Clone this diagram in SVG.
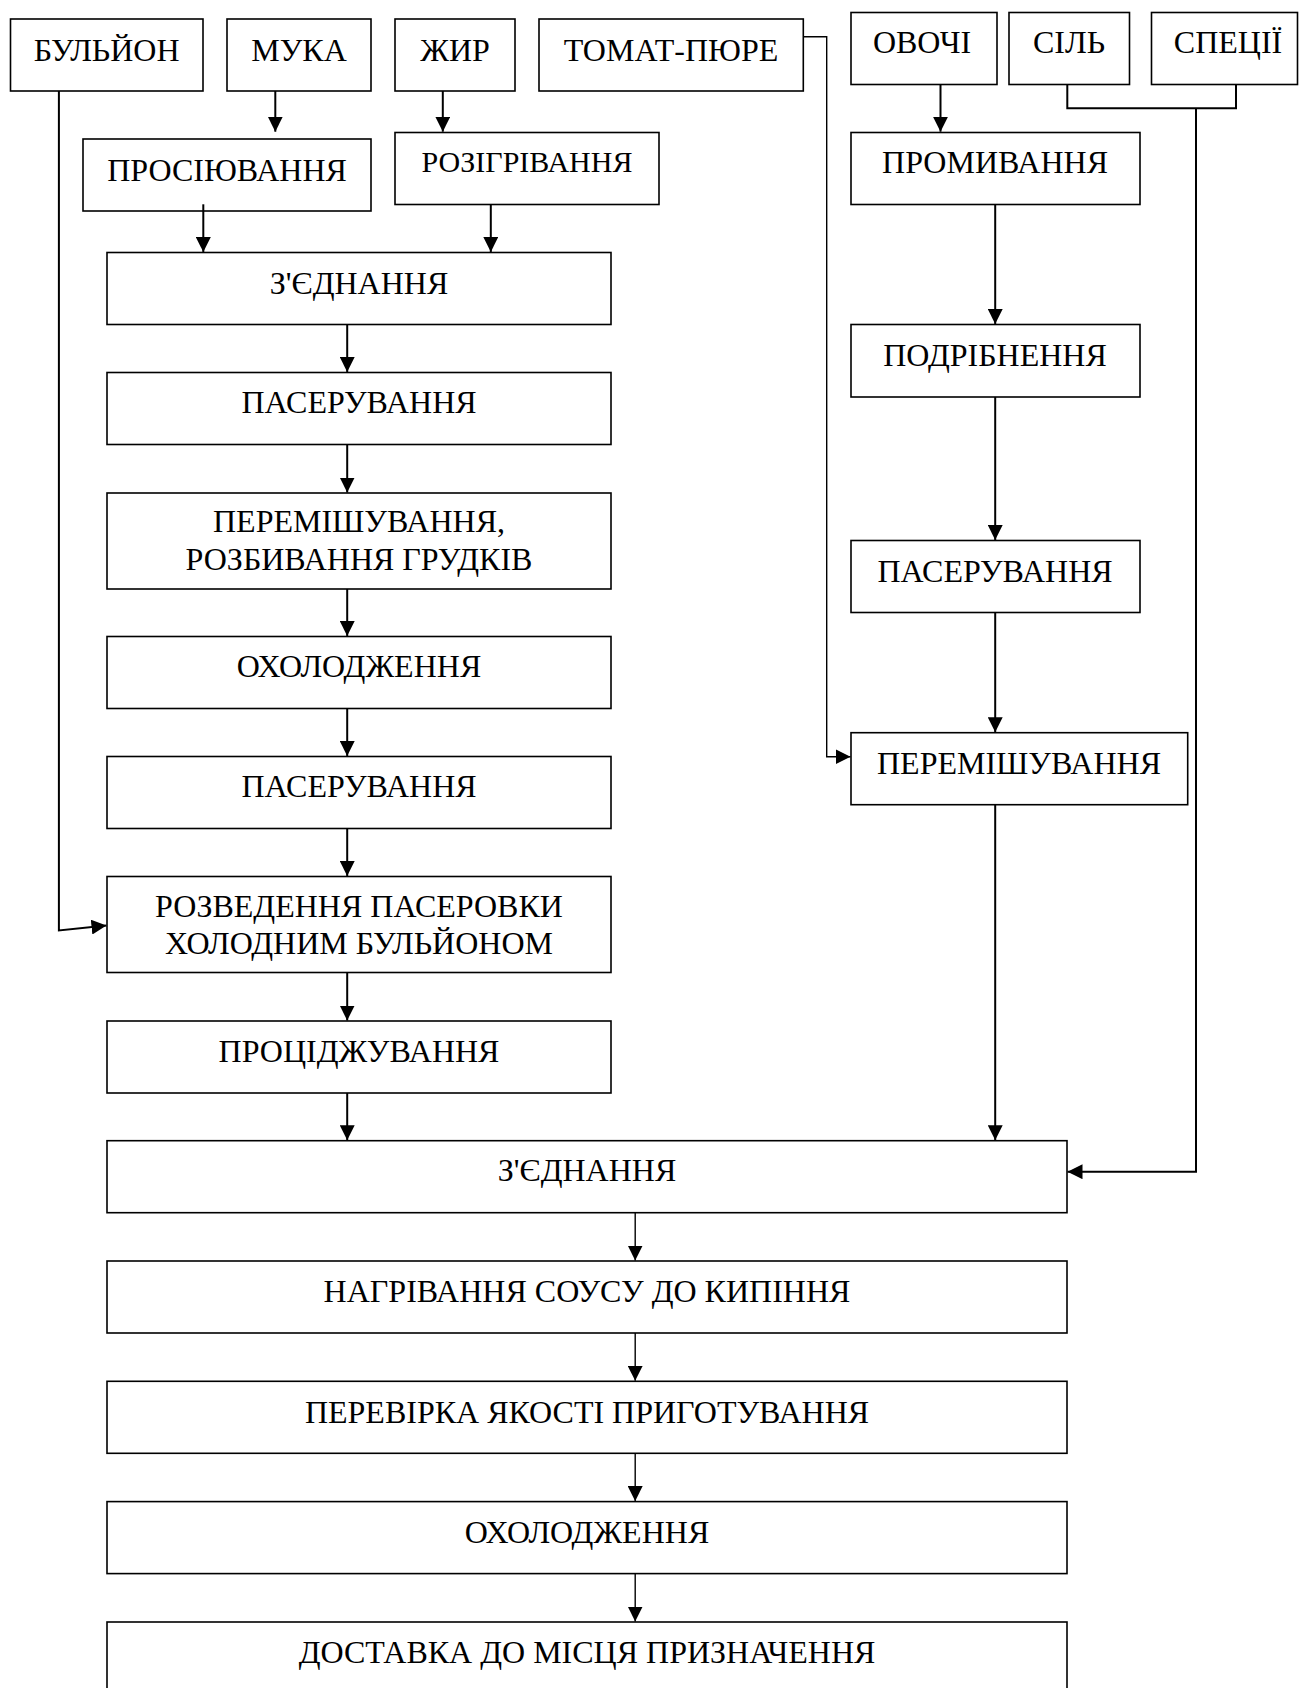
<svg xmlns="http://www.w3.org/2000/svg" width="1299" height="1688" viewBox="0 0 1299 1688">
<style>
rect.b{fill:#fff;stroke:#000;stroke-width:1.6}
text{font-family:"Liberation Serif","Times New Roman",serif;font-size:32px;fill:#000;text-anchor:middle}
text.s{font-size:30px}
.c{fill:none;stroke:#000;stroke-width:2}
.t{fill:none;stroke:#000;stroke-width:1.4}
</style>
<defs>
<marker id="ah" markerUnits="userSpaceOnUse" markerWidth="15" markerHeight="15" refX="15" refY="7.5" orient="auto">
<path d="M0,0 L15,7.5 L0,15 z" fill="#000"/>
</marker>
</defs>
<rect width="1299" height="1688" fill="#fff"/>
<g id="n-bulyon"><rect class="b" x="10.5" y="19" width="192.5" height="72"/><text x="106.7" y="61">БУЛЬЙОН</text></g>
<g id="n-muka"><rect class="b" x="227" y="19" width="144" height="72"/><text x="299" y="61">МУКА</text></g>
<g id="n-zhyr"><rect class="b" x="395" y="19" width="120" height="72"/><text x="455" y="61">ЖИР</text></g>
<g id="n-tomat"><rect class="b" x="539" y="19" width="264.3" height="72"/><text x="671" y="61">ТОМАТ-ПЮРЕ</text></g>
<g id="n-ovochi"><rect class="b" x="851" y="12.5" width="146" height="72"/><text x="922" y="53.3">ОВОЧІ</text></g>
<g id="n-sil"><rect class="b" x="1009" y="12.5" width="120.5" height="72"/><text x="1069" y="53.3">СІЛЬ</text></g>
<g id="n-spetsii"><rect class="b" x="1151.5" y="12.5" width="146" height="72"/><text x="1228" y="52.5">СПЕЦІЇ</text></g>
<g id="n-prosiyuvannya"><rect class="b" x="83" y="139" width="288" height="72"/><text x="227" y="181">ПРОСІЮВАННЯ</text></g>
<g id="n-rozihrivannya"><rect class="b" x="395" y="132.5" width="264" height="72"/><text class="s" x="527" y="171.7">РОЗІГРІВАННЯ</text></g>
<g id="n-zyednannya1"><rect class="b" x="107" y="252.5" width="504" height="72"/><text x="359" y="294.3">З'ЄДНАННЯ</text></g>
<g id="n-paseruvannya1"><rect class="b" x="107" y="372.5" width="504" height="72"/><text x="359" y="413.3">ПАСЕРУВАННЯ</text></g>
<g id="n-peremishuvannya1"><rect class="b" x="107" y="493" width="504" height="96"/><text x="359" y="531.7">ПЕРЕМІШУВАННЯ,</text><text x="359" y="570">РОЗБИВАННЯ ГРУДКІВ</text></g>
<g id="n-okholodzhennya1"><rect class="b" x="107" y="636.5" width="504" height="72"/><text x="359" y="677.3">ОХОЛОДЖЕННЯ</text></g>
<g id="n-paseruvannya2"><rect class="b" x="107" y="756.5" width="504" height="72"/><text x="359" y="796.7">ПАСЕРУВАННЯ</text></g>
<g id="n-rozvedennya"><rect class="b" x="107" y="876.5" width="504" height="96"/><text x="359" y="916.7">РОЗВЕДЕННЯ ПАСЕРОВКИ</text><text x="359" y="954">ХОЛОДНИМ БУЛЬЙОНОМ</text></g>
<g id="n-protsidzhuvannya"><rect class="b" x="107" y="1021" width="504" height="72"/><text x="359" y="1061.7">ПРОЦІДЖУВАННЯ</text></g>
<g id="n-promyvannya"><rect class="b" x="851" y="132.5" width="289" height="72"/><text x="995" y="173.3">ПРОМИВАННЯ</text></g>
<g id="n-podribnennya"><rect class="b" x="851" y="324.5" width="289" height="72.5"/><text x="995" y="365.7">ПОДРІБНЕННЯ</text></g>
<g id="n-paseruvannya3"><rect class="b" x="851" y="540.5" width="289" height="72"/><text x="995" y="581.7">ПАСЕРУВАННЯ</text></g>
<g id="n-peremishuvannya2"><rect class="b" x="851" y="732.7" width="336.7" height="72"/><text x="1019" y="774">ПЕРЕМІШУВАННЯ</text></g>
<g id="n-zyednannya2"><rect class="b" x="107" y="1140.7" width="960" height="72"/><text x="587" y="1181">З'ЄДНАННЯ</text></g>
<g id="n-nahrivannya"><rect class="b" x="107" y="1261" width="960" height="72"/><text x="587" y="1302.3">НАГРІВАННЯ СОУСУ ДО КИПІННЯ</text></g>
<g id="n-perevirka"><rect class="b" x="107" y="1381.3" width="960" height="72"/><text x="587" y="1422.6">ПЕРЕВІРКА ЯКОСТІ ПРИГОТУВАННЯ</text></g>
<g id="n-okholodzhennya2"><rect class="b" x="107" y="1501.6" width="960" height="72"/><text x="587" y="1542.9">ОХОЛОДЖЕННЯ</text></g>
<g id="n-dostavka"><rect class="b" x="107" y="1622" width="960" height="72"/><text x="587" y="1663.2">ДОСТАВКА ДО МІСЦЯ ПРИЗНАЧЕННЯ</text></g>
<g id="connectors">
<path class="c" d="M275.3,91 V131.7" marker-end="url(#ah)"/>
<path class="c" d="M442.8,91 V131.7" marker-end="url(#ah)"/>
<path class="c" d="M940.5,84.5 V131.7" marker-end="url(#ah)"/>
<path class="c" d="M203.3,204.3 V252" marker-end="url(#ah)"/>
<path class="c" d="M490.8,204.3 V252" marker-end="url(#ah)"/>
<path class="c" d="M347.2,324.5 V372" marker-end="url(#ah)"/>
<path class="c" d="M347.2,444.5 V492.5" marker-end="url(#ah)"/>
<path class="c" d="M347.2,589 V636" marker-end="url(#ah)"/>
<path class="c" d="M347.2,708.5 V756" marker-end="url(#ah)"/>
<path class="c" d="M347.2,828.5 V876" marker-end="url(#ah)"/>
<path class="c" d="M347.2,972.5 V1020.5" marker-end="url(#ah)"/>
<path class="c" d="M347.2,1093 V1140.2" marker-end="url(#ah)"/>
<path class="c" d="M995.2,204.5 V324" marker-end="url(#ah)"/>
<path class="c" d="M995.2,397 V540" marker-end="url(#ah)"/>
<path class="c" d="M995.2,612.5 V732.2" marker-end="url(#ah)"/>
<path class="c" d="M995.2,804.7 V1140.2" marker-end="url(#ah)"/>
<path class="t" d="M635.2,1212.7 V1260.5" marker-end="url(#ah)"/>
<path class="t" d="M635.2,1333 V1380.8" marker-end="url(#ah)"/>
<path class="t" d="M635.2,1453.3 V1501.1" marker-end="url(#ah)"/>
<path class="t" d="M635.2,1573.6 V1621.5" marker-end="url(#ah)"/>
<path class="c" d="M58.9,91 V930.5 L106.5,925.5" marker-end="url(#ah)"/>
<path class="t" d="M803.3,36.7 H826.7 V756.7 H850.5" marker-end="url(#ah)"/>
<path class="c" d="M1067.3,84.5 V108.3 H1236 V84.5"/>
<path class="c" d="M1196,108.3 V1171.7 H1067.5" marker-end="url(#ah)"/>
</g>
</svg>
